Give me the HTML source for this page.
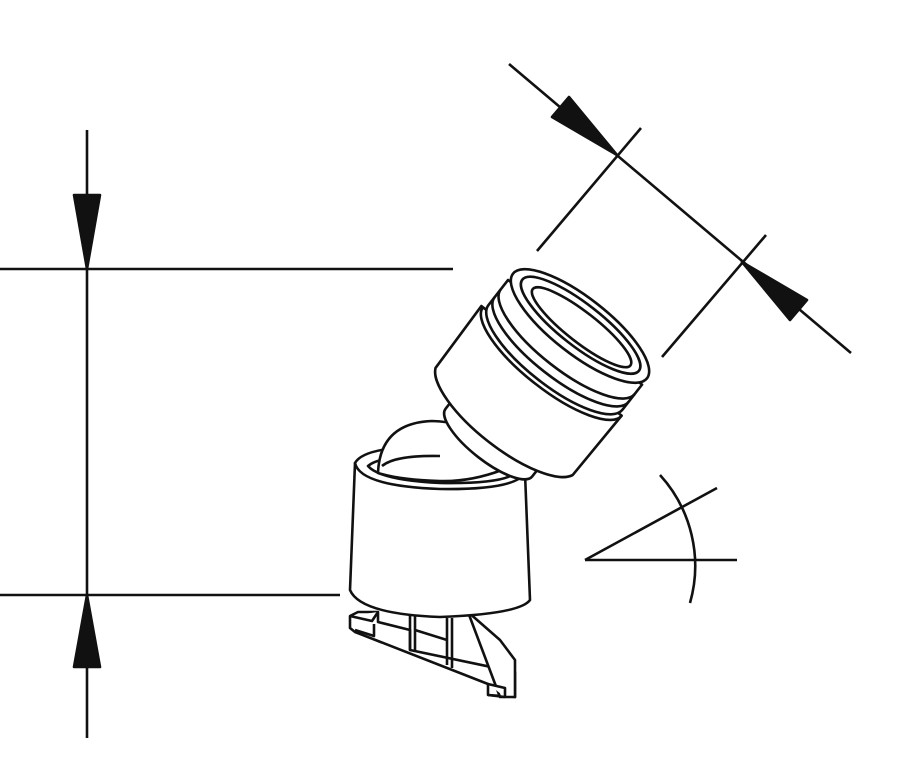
<!DOCTYPE html>
<html><head><style>body{margin:0;background:#fff}svg{display:block}</style></head><body>
<svg width="915" height="764" viewBox="0 0 915 764" xmlns="http://www.w3.org/2000/svg" fill="none" stroke="#111" stroke-width="2.6" stroke-linejoin="round">
<!-- vertical dimension -->
<line x1="87" y1="130" x2="87" y2="738"/>
<line x1="0" y1="269" x2="453" y2="269"/>
<line x1="0" y1="595" x2="340" y2="595"/>
<polygon points="87,269 74,195 100,195" fill="#111"/>
<polygon points="87,595 74,667 100,667" fill="#111"/>
<!-- diagonal dimension -->
<line x1="509" y1="64" x2="851" y2="353"/>
<line x1="537" y1="251" x2="641" y2="128"/>
<line x1="662" y1="357" x2="766" y2="235"/>
<polygon points="617,155 552,117 569,97" fill="#111"/>
<polygon points="742,262 807,300 790,320" fill="#111"/>
<!-- angle symbol -->
<line x1="585" y1="560" x2="737" y2="560"/>
<line x1="585" y1="560" x2="717" y2="488"/>
<path d="M660,475 A135,135 0 0 1 690,603"/>
<!-- base feet -->
<g fill="#fff">
<polygon points="358,612 378,612 378,622 410,630 410,650 515,672 515,697 488,695 488,684 355,632 350,628 350,616"/>
<polygon points="468,612 500,640 515,660 515,697 500,697"/>
<polyline points="350,616 372,621 378,612"/>
<polyline points="355,630 374,636 374,624"/>
<line x1="410" y1="615" x2="410" y2="650"/>
<line x1="415" y1="615" x2="415" y2="652"/>
<line x1="447" y1="618" x2="447" y2="665"/>
<line x1="452" y1="618" x2="452" y2="668"/>
<polyline points="415,630 447,640"/>
<polyline points="488,684 505,688 505,697"/>
<polyline points="488,695 505,697"/>
</g>
<!-- lower cylinder -->
<path d="M355,463 L350,590 Q360,614 440,617 Q520,614 530,600 L525,473 Z" fill="#fff"/>
<path d="M355,463 Q365,445 440,447 Q520,450 525,473 Q515,490 440,489 Q360,486 355,463 Z" fill="#fff"/>
<path d="M368,466 Q380,455 440,456 Q505,458 514,474 Q500,484 440,483 Q380,480 368,466 Z"/>
<!-- dome -->
<path d="M378,473 Q380,423 432,421 Q492,423 502,470 Q470,482 440,481 Q400,480 378,473 Z" fill="#fff"/>
<path d="M382,466 Q395,455 440,456"/>
<!-- upper cylinder -->
<g transform="translate(580,326) rotate(38)" fill="#fff">
<path d="M-55,120 L-55,148 A55,18 0 0 0 55,148 L55,120 Z"/>
<path d="M-90,45 L-88,122 A88,30 0 0 0 86,122 L88,45 Z"/>
<path d="M-85,8 L-85,40 A85,28 0 0 0 85,40 L85,8 Z"/>
<path d="M-85,20 A85,28 0 0 0 85,20" fill="none"/>
<path d="M-85,30 A85,28 0 0 0 85,30" fill="none"/>
<path d="M-88,45 A88,28 0 0 0 88,45" fill="none"/>
<ellipse cx="0" cy="0" rx="85" ry="28"/>
<ellipse cx="0" cy="-1" rx="74" ry="21"/>
<ellipse cx="2" cy="0" rx="62" ry="15"/>
</g>
</svg>
</body></html>
